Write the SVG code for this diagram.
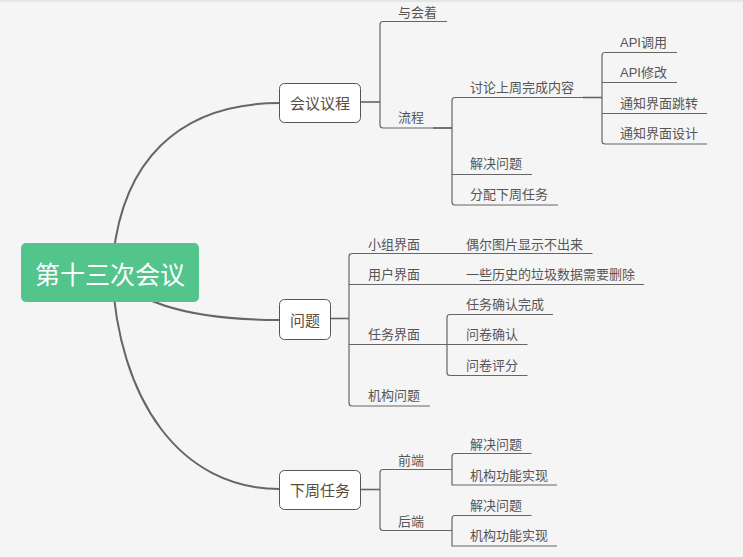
<svg xmlns="http://www.w3.org/2000/svg" width="743" height="557" viewBox="0 0 743 557">
<style>
text{font-family:"Liberation Sans","Noto Sans CJK SC",sans-serif;fill:#555}
.leaf{font-size:13px}
.topic{font-size:15px;text-anchor:middle;fill:#5a4c3c}
.root{font-size:25px;text-anchor:middle;fill:#fff}
.box{fill:#fff;stroke:#555;stroke-width:1}
.curve{fill:none;stroke:#666;stroke-width:2}
.ln{fill:none;stroke:#666;stroke-width:1.2}
.cn{fill:none;stroke:#666;stroke-width:1.6}
</style>
<rect x="0" y="0" width="743" height="557" fill="#f5f5f5"/>
<rect x="0" y="0" width="743" height="2" fill="#e6e6e6"/>
<g id="connectors">
<path class="curve" d="M112,272 C118,160 180,103 280,103"/>
<path class="curve" d="M112,272 C118,400 180,489 280,489"/>
<path class="curve" d="M110,272 Q150,320 280,320"/>
<path class="cn" d="M360,102 H380"/>
<path class="ln" d="M447,21.5 H383 Q380,21.5 380,24.5 V125 Q380,128 383,128 H452"/>
<path class="cn" d="M433,128 H452"/>
<path class="ln" d="M583,97.5 H455 Q452,97.5 452,100.5 V202 Q452,205 455,205 H558"/>
<path class="ln" d="M452,174.5 H532"/>
<path class="cn" d="M583,97.5 H602"/>
<path class="ln" d="M677,52.5 H605 Q602,52.5 602,55.5 V141 Q602,144 605,144 H707"/>
<path class="ln" d="M602,82.5 H677 M602,113.5 H707"/>
<path class="cn" d="M330,318.5 H349"/>
<path class="ln" d="M592.5,253.5 H352 Q349,253.5 349,256.5 V403 Q349,406 352,406 H430"/>
<path class="ln" d="M349,284.5 H644 M349,344.5 H447"/>
<path class="ln" d="M553,314.5 H450 Q447,314.5 447,317.5 V372.5 Q447,375.5 450,375.5 H527.5"/>
<path class="ln" d="M447,344.5 H527.5"/>
<path class="cn" d="M360,489.5 H380"/>
<path class="ln" d="M452,469.5 H383 Q380,469.5 380,472.5 V527.5 Q380,530.5 383,530.5 H452"/>
<path class="ln" d="M531.5,453.5 H455 Q452,453.5 452,456.5 V485 H557"/>
<path class="ln" d="M531.5,515.5 H455 Q452,515.5 452,518.5 V546 H557"/>
</g>
<g id="root">
<rect x="21" y="243" width="178" height="59" rx="5" fill="#52c48c"/>
<text class="root" x="110" y="284">第十三次会议</text>
</g>
<g id="agenda">
<rect class="box" x="279.5" y="83.5" width="81" height="39" rx="5"/>
<text class="topic" x="320" y="108.5">会议议程</text>
</g>
<g id="issues">
<rect class="box" x="279.5" y="299.5" width="51" height="40" rx="5"/>
<text class="topic" x="305" y="325.5">问题</text>
</g>
<g id="nextweek">
<rect class="box" x="279.5" y="470.5" width="81" height="39" rx="5"/>
<text class="topic" x="320" y="495.5">下周任务</text>
</g>
<g id="attendees"><text class="leaf" x="398" y="16.5">与会着</text></g>
<g id="process"><text class="leaf" x="398" y="122">流程</text></g>
<g id="discuss"><text class="leaf" x="470" y="92">讨论上周完成内容</text></g>
<g id="solve1"><text class="leaf" x="470" y="168">解决问题</text></g>
<g id="assign"><text class="leaf" x="470" y="199">分配下周任务</text></g>
<g id="api-call"><text class="leaf" x="620" y="46.5">API调用</text></g>
<g id="api-mod"><text class="leaf" x="620" y="77">API修改</text></g>
<g id="notify-jump"><text class="leaf" x="620" y="107.5">通知界面跳转</text></g>
<g id="notify-design"><text class="leaf" x="620" y="138">通知界面设计</text></g>
<g id="group-ui"><text class="leaf" x="368" y="248.5">小组界面</text></g>
<g id="group-ui-issue"><text class="leaf" x="466" y="248.5">偶尔图片显示不出来</text></g>
<g id="user-ui"><text class="leaf" x="368" y="278.5">用户界面</text></g>
<g id="user-ui-issue"><text class="leaf" x="466" y="278.5">一些历史的垃圾数据需要删除</text></g>
<g id="task-ui"><text class="leaf" x="368" y="339">任务界面</text></g>
<g id="task-confirm"><text class="leaf" x="466" y="309">任务确认完成</text></g>
<g id="quest-confirm"><text class="leaf" x="466" y="339">问卷确认</text></g>
<g id="quest-score"><text class="leaf" x="466" y="370">问卷评分</text></g>
<g id="org-issue"><text class="leaf" x="368" y="400">机构问题</text></g>
<g id="frontend"><text class="leaf" x="398" y="464.5">前端</text></g>
<g id="fe-solve"><text class="leaf" x="470" y="449">解决问题</text></g>
<g id="fe-impl"><text class="leaf" x="470" y="480">机构功能实现</text></g>
<g id="backend"><text class="leaf" x="398" y="525.5">后端</text></g>
<g id="be-solve"><text class="leaf" x="470" y="510">解决问题</text></g>
<g id="be-impl"><text class="leaf" x="470" y="540">机构功能实现</text></g>
</svg>
